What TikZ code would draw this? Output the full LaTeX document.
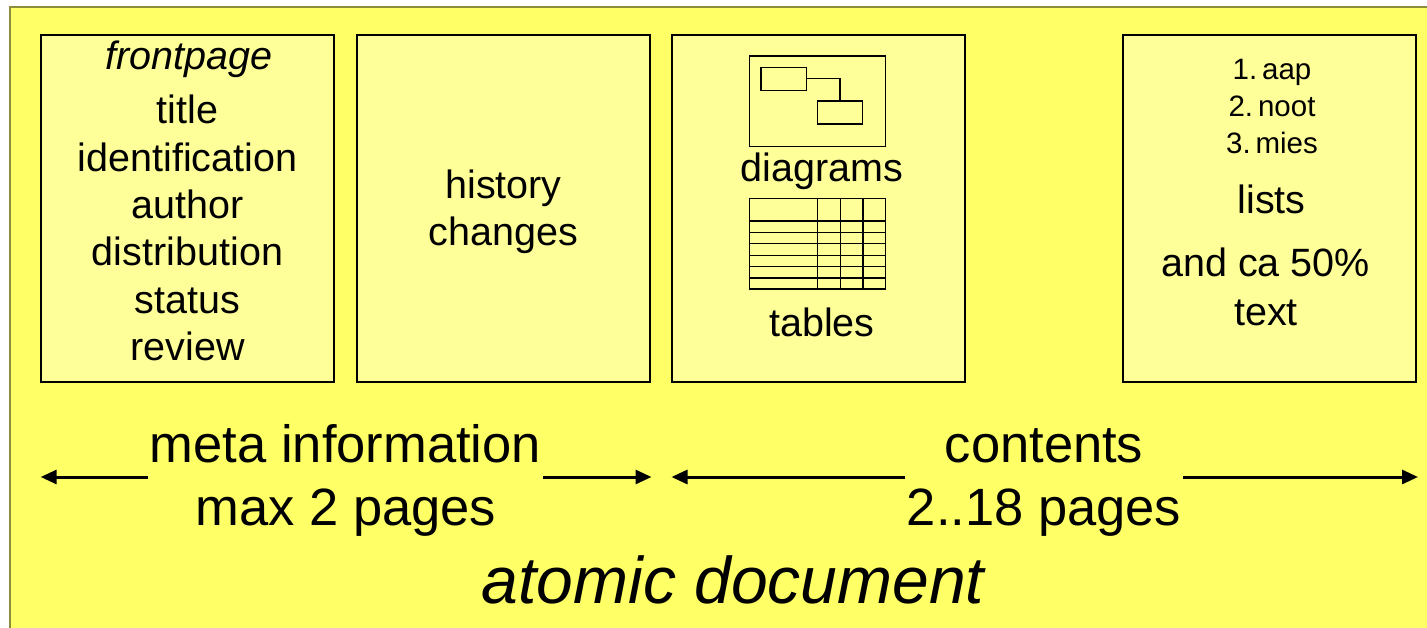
\documentclass[tikz,border=0pt]{standalone}
\usepackage{fontspec}
\setmainfont{Liberation Sans}
\usetikzlibrary{arrows.meta}
\definecolor{outerY}{HTML}{FFFF66}
\definecolor{innerY}{HTML}{FFFF99}
\definecolor{olive}{HTML}{8C8C3C}
\tikzset{
  panel/.style={draw=black, fill=innerY, line width=1.3pt},
  boxtxt/.style={anchor=base, inner sep=0pt, font=\fontsize{39.5}{47.5}\selectfont},
  smalltxt/.style={anchor=base, inner sep=0pt, font=\fontsize{29.5}{35}\selectfont},
  bigtxt/.style={anchor=base, inner sep=0pt, font=\fontsize{52.5}{63}\selectfont},
  icon/.style={draw=black, line width=1.3pt},
  span/.style={line width=3pt, -{Triangle[length=16pt,width=14pt]}},
}
\begin{document}
\begin{tikzpicture}[x=1pt,y=-1pt]
\useasboundingbox (0,0) rectangle (1427,628);
% outer area
\draw[fill=outerY, draw=olive, line width=1.5pt] (10,7) rectangle (1450,650);
% panels
\node[panel, minimum width=293pt, minimum height=347pt, inner sep=0pt] (p1) at (187.5,208.5) {};
\node[panel, minimum width=293pt, minimum height=347pt, inner sep=0pt] (p2) at (503.5,208.5) {};
\node[panel, minimum width=293pt, minimum height=347pt, inner sep=0pt] (p3) at (818.5,208.5) {};
\node[panel, minimum width=293pt, minimum height=347pt, inner sep=0pt] (p4) at (1269.5,208.5) {};
% panel 1 text
\node[boxtxt, font=\fontsize{39.5}{47.5}\selectfont\itshape] (fp) at (189,70) {frontpage};
\node[boxtxt] (t1) at (187.5,124) {title};
\node[boxtxt] (t2) at (187.5,171.3) {identification};
\node[boxtxt] (t3) at (187.5,218.6) {author};
\node[boxtxt] (t4) at (187.5,266) {distribution};
\node[boxtxt] (t5) at (187.5,313.2) {status};
\node[boxtxt] (t6) at (187.5,360.5) {review};
% panel 2 text
\node[boxtxt] (h1) at (503.5,199) {history};
\node[boxtxt] (h2) at (503.5,246) {changes};
% panel 3: diagram icon
\draw[icon] (749.3,56) rectangle (885.3,146.3);
\node[icon, minimum width=45.3pt, minimum height=23pt, inner sep=0pt] (d1) at (783.7,78.8) {};
\node[icon, minimum width=45.3pt, minimum height=23pt, inner sep=0pt] (d2) at (840,112.5) {};
\draw[icon] (d1.east) -| (d2.north);
\node[boxtxt] (dg) at (822,182) {diagrams};
% table icon
\draw[icon] (749.3,198.3) rectangle (885.3,289);
\foreach \yy in {221,232.3,243.7,255.3,266.7,278} \draw[icon] (749.3,\yy) -- (885.3,\yy);
\foreach \xx in {817.3,840.3,863} \draw[icon] (\xx,198.3) -- (\xx,289);
\node[boxtxt] (tb) at (822,337) {tables};
% panel 4 text
\node[smalltxt] (l1) at (1272,80) {1.\,aap};
\node[smalltxt] (l2) at (1272,117) {2.\,noot};
\node[smalltxt] (l3) at (1272,154) {3.\,mies};
\node[boxtxt] (ls) at (1271.5,213.5) {lists};
\node[boxtxt] (ac) at (1265.5,277) {and ca 50\%};
\node[boxtxt] (tx) at (1266,326) {text};
% bottom labels
\node[bigtxt] (meta) at (345.5,462) {meta information};
\node[bigtxt] (max) at (346,525.5) {max 2 pages};
\node[bigtxt] (cont) at (1044,462) {contents};
\node[bigtxt] (pg) at (1044,525.5) {2..18 pages};
\node[anchor=base, inner sep=0pt, font=\fontsize{66}{79}\selectfont\itshape] (atom) at (733,603) {atomic document};
% arrows
\coordinate (mLs) at (148,477);
\coordinate (mLe) at (40.7,477);
\coordinate (mRs) at (543,477);
\coordinate (mRe) at (651.5,477);
\coordinate (cLs) at (905,477);
\coordinate (cLe) at (671.5,477);
\coordinate (cRs) at (1183,477);
\coordinate (cRe) at (1418,477);
\draw[span] (mLs) -- (mLe);
\draw[span] (mRs) -- (mRe);
\draw[span] (cLs) -- (cLe);
\draw[span] (cRs) -- (cRe);
\end{tikzpicture}
\end{document}
